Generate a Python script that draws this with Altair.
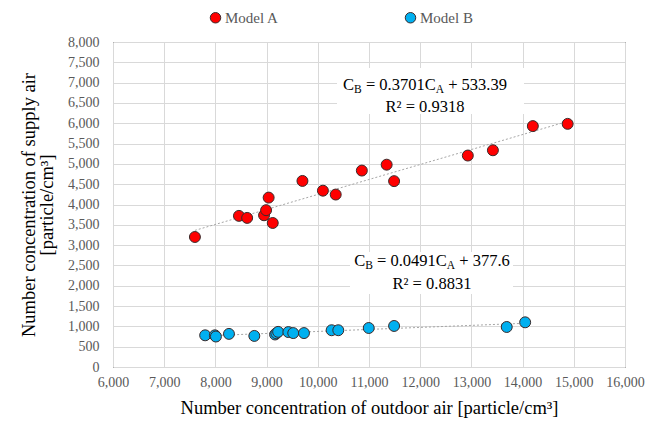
import altair as alt
import pandas as pd

# ---- data ----
a_x = [7600, 8460, 8620, 8950, 8990, 9040, 9120, 9700, 10100, 10350, 10860, 11345, 11490, 12930, 13420, 14200, 14880]
a_y = [3200, 3720, 3670, 3735, 3860, 4170, 3545, 4580, 4340, 4245, 4835, 4980, 4575, 5205, 5335, 5930, 5985]
b_x = [7800, 7990, 8010, 8265, 8760, 9165, 9190, 9225, 9425, 9520, 9730, 10270, 10400, 10995, 11490, 13690, 14050]
b_y = [780, 780, 750, 815, 765, 800, 830, 865, 860, 835, 835, 905, 905, 960, 1010, 985, 1100]
series_names = ["Model A", "Model B"]
series_colors = ["#ff0000", "#00b0f0"]
x_ticks = list(range(6000, 16001, 1000))
y_ticks = list(range(0, 8001, 500))

# (text, is_subscript, leading space)
eq_a = [("C", 0, 0), ("B", 1, 0), ("= 0.3701C", 0, 1), ("A", 1, 0), ("+ 533.39", 0, 1)]
r2_a = "R² = 0.9318"
eq_b = [("C", 0, 0), ("B", 1, 0), ("= 0.0491C", 0, 1), ("A", 1, 0), ("+ 377.6", 0, 1)]
r2_b = "R² = 0.8831"
# annotation anchors (data units): center x, line1 y, line2 y, box
ann_a = dict(x=12094, y1=6966, y2=6400, bx=10375, bx2=14027, by=6228, by2=7360)
ann_b = dict(x=12230, y1=2634, y2=2043, bx=10629, bx2=13813, by=1797, by2=2831)

df = pd.DataFrame({
    "x": a_x + b_x,
    "y": a_y + b_y,
    "series": [series_names[0]] * len(a_x) + [series_names[1]] * len(b_x),
})

FONT = "Liberation Serif"
W = 512
H = 325

x_scale = alt.Scale(domain=[6000, 16000], nice=False, zero=False)
y_scale = alt.Scale(domain=[0, 8000], nice=False)
color_scale = alt.Scale(domain=series_names, range=series_colors)
x_axis = alt.Axis(values=x_ticks, format=",.0f", labelOverlap=False, labelFlush=False,
                  labelPadding=8, labelFont=FONT, titlePadding=9,
                  title="Number concentration of outdoor air [particle/cm³]")
y_axis = alt.Axis(values=y_ticks, format=",.0f", labelOverlap=False, labelFlush=False,
                  labelPadding=14, labelFont=FONT, titlePadding=11, titleLineHeight=18,
                  title=["Number concentration of supply air", "[particle/cm³]"])


def X(field="x"):
    return alt.X(f"{field}:Q", scale=x_scale, axis=x_axis)


def Y(field="y"):
    return alt.Y(f"{field}:Q", scale=y_scale, axis=y_axis)


base = alt.Chart(df)

trend = base.transform_regression("x", "y", groupby=["series"]).mark_line(
    color="#a6a6a6", strokeWidth=1, strokeDash=[2, 2]
).encode(x=X(), y=Y(), detail="series:N")

points = base.mark_point(
    filled=True, size=120, stroke="#3a2a2a", strokeWidth=1, opacity=1
).encode(
    x=X(), y=Y(),
    color=alt.Color(
        "series:N", scale=color_scale,
        legend=alt.Legend(
            title=None, orient="none", direction="horizontal",
            legendX=95, legendY=-32, columnPadding=124,
            symbolType="circle", symbolSize=110, symbolStrokeColor="#3a2a2a",
            symbolStrokeWidth=1, labelFont=FONT, labelFontSize=15,
            labelColor="#595959", labelOffset=2,
        ),
    ),
)

# Times metrics (per 1000 em)
widths = {"0": 500, "1": 500, "2": 500, "3": 500, "4": 500, "5": 500, "6": 500, "7": 500,
          "8": 500, "9": 500, ".": 250, " ": 250, "=": 564, "+": 564, "C": 667, "A": 722,
          "B": 667, "R": 667}
FS = 16.5
FS_SUB = 11.5


def tw(s, fs):
    return sum(widths.get(c, 500) for c in s) / 1000 * fs


def annotation(eq, r2, ann):
    layers = []
    box_df = pd.DataFrame({"x": [ann["bx"]], "x2": [ann["bx2"]], "y": [ann["by"]], "y2": [ann["by2"]]})
    layers.append(
        alt.Chart(box_df).mark_rect(color="white").encode(
            x=X(), x2="x2:Q", y=Y(), y2="y2:Q",
        )
    )
    total = sum(tw(t, FS_SUB if sub else FS) + sp * 0.25 * FS for t, sub, sp in eq)
    off = -total / 2
    pt = pd.DataFrame({"x": [ann["x"]], "y": [ann["y1"]]})
    for t, sub, sp in eq:
        fs = FS_SUB if sub else FS
        off += sp * 0.25 * FS
        layers.append(
            alt.Chart(pt).mark_text(
                text=t, font=FONT, fontSize=fs, align="left", baseline="alphabetic",
                dx=off, dy=(9 if sub else 6), color="#000000",
            ).encode(x=X(), y=Y())
        )
        off += tw(t, fs)
    pt2 = pd.DataFrame({"x": [ann["x"]], "y": [ann["y2"]]})
    layers.append(
        alt.Chart(pt2).mark_text(
            text=r2, font=FONT, fontSize=FS, align="center", baseline="middle", color="#000000",
        ).encode(x=X(), y=Y())
    )
    return layers


chart = alt.layer(
    *([trend] + annotation(eq_a, r2_a, ann_a) + annotation(eq_b, r2_b, ann_b) + [points])
).properties(
    width=W, height=H, padding={"left": 11, "top": 2, "right": 5, "bottom": 2}
).configure_view(
    stroke="#000000", strokeWidth=1
).configure_axis(
    grid=True, gridColor="#d9d9d9", gridWidth=1, domain=False, ticks=False,
    labelFont=FONT, labelFontSize=14, labelColor="#595959",
    titleFont=FONT, titleFontSize=18.5, titleColor="#000000", titleFontWeight="normal",
)

chart.save("out.html", embed_options={"renderer": "svg", "actions": False})
